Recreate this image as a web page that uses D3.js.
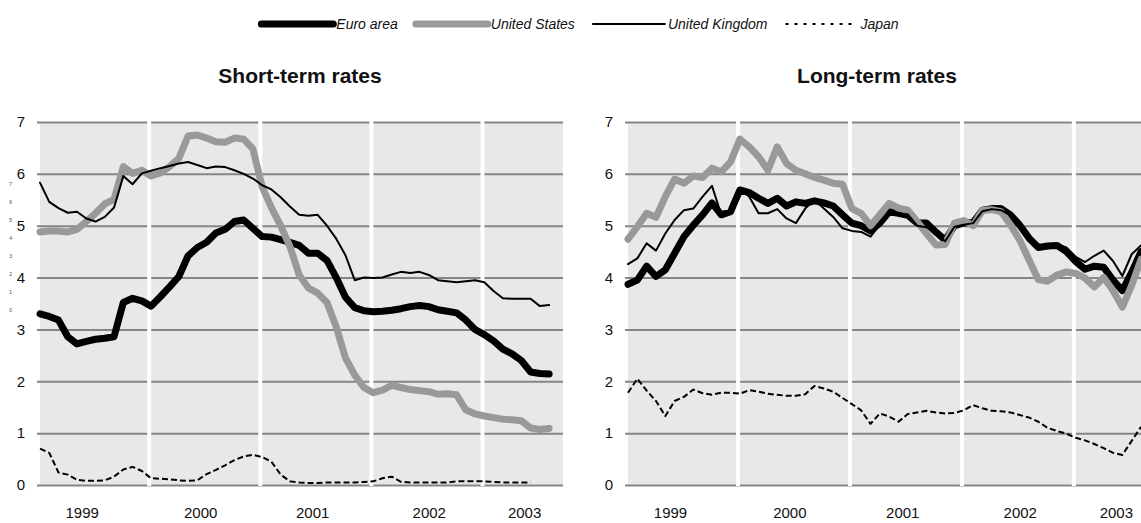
<!DOCTYPE html>
<html>
<head>
<meta charset="utf-8">
<script src="https://cdn.jsdelivr.net/npm/d3@7"></script>
<style>
  body { margin: 0; background: #fff; }
  svg { display: block; font-family: "Liberation Sans", Arial, sans-serif; }
</style>
</head>
<body>
<div id="chart"></div>
<script>
// monthly observations, index 0 = Jan 1999
var euroShort = [3.30, 3.25, 3.18, 2.86, 2.72, 2.77, 2.81, 2.83, 2.86, 3.52, 3.60, 3.55,
  3.45, 3.63, 3.82, 4.02, 4.42, 4.58, 4.68, 4.86, 4.93, 5.08, 5.11, 4.95,
  4.79, 4.78, 4.73, 4.68, 4.62, 4.47, 4.47, 4.33, 4.00, 3.62, 3.42, 3.36,
  3.34, 3.35, 3.37, 3.40, 3.44, 3.46, 3.44, 3.38, 3.35, 3.32, 3.18, 3.00,
  2.90, 2.78, 2.62, 2.53, 2.40, 2.18, 2.15, 2.14];
var usShort = [4.88, 4.90, 4.90, 4.88, 4.93, 5.08, 5.24, 5.42, 5.51, 6.14, 6.01, 6.07,
  5.96, 6.02, 6.14, 6.30, 6.73, 6.75, 6.69, 6.62, 6.61, 6.69, 6.67, 6.48,
  5.75, 5.35, 5.00, 4.60, 4.05, 3.80, 3.70, 3.52, 3.05, 2.45, 2.12, 1.88,
  1.78, 1.83, 1.92, 1.88, 1.84, 1.82, 1.80, 1.75, 1.76, 1.74, 1.45, 1.37,
  1.33, 1.30, 1.27, 1.26, 1.24, 1.10, 1.07, 1.09];
var ukShort = [5.83, 5.46, 5.34, 5.25, 5.27, 5.14, 5.08, 5.17, 5.35, 5.96, 5.80, 6.01,
  6.06, 6.11, 6.15, 6.20, 6.23, 6.17, 6.11, 6.14, 6.13, 6.07, 6.00, 5.91,
  5.78, 5.70, 5.55, 5.37, 5.21, 5.19, 5.21, 5.00, 4.75, 4.43, 3.95, 4.00,
  3.99, 4.00, 4.06, 4.11, 4.09, 4.11, 4.05, 3.95, 3.93, 3.91, 3.93, 3.95,
  3.91, 3.74, 3.60, 3.59, 3.59, 3.59, 3.45, 3.47];
var japanShort = [0.70, 0.62, 0.24, 0.20, 0.10, 0.08, 0.08, 0.09, 0.16, 0.30, 0.35, 0.27,
  0.13, 0.12, 0.11, 0.09, 0.08, 0.09, 0.21, 0.29, 0.38, 0.48, 0.55, 0.58,
  0.54, 0.45, 0.20, 0.07, 0.05, 0.04, 0.04, 0.05, 0.05, 0.05, 0.05, 0.06,
  0.07, 0.13, 0.16, 0.06, 0.05, 0.05, 0.05, 0.05, 0.05, 0.07, 0.07, 0.07,
  0.07, 0.06, 0.05, 0.05, 0.05, 0.05];

var euroLong = [3.87, 3.95, 4.22, 4.02, 4.15, 4.47, 4.79, 5.01, 5.21, 5.44, 5.21, 5.27,
  5.69, 5.64, 5.53, 5.43, 5.53, 5.38, 5.46, 5.43, 5.48, 5.44, 5.38, 5.21,
  5.05, 5.00, 4.90, 5.05, 5.27, 5.24, 5.20, 5.05, 5.05, 4.88, 4.72, 5.00,
  5.05, 5.06, 5.30, 5.33, 5.33, 5.21, 5.01, 4.76, 4.58, 4.61, 4.62, 4.50,
  4.31, 4.16, 4.22, 4.20, 3.95, 3.75, 4.10, 4.50];
var usLong = [4.74, 4.98, 5.24, 5.16, 5.56, 5.90, 5.82, 5.96, 5.93, 6.11, 6.04, 6.23,
  6.67, 6.52, 6.33, 6.07, 6.52, 6.20, 6.07, 6.00, 5.93, 5.88, 5.82, 5.80,
  5.33, 5.24, 5.00, 5.21, 5.43, 5.34, 5.30, 5.08, 4.85, 4.63, 4.64, 5.05,
  5.10, 5.00, 5.30, 5.31, 5.27, 5.02, 4.72, 4.34, 3.96, 3.93, 4.05, 4.11,
  4.08, 3.99, 3.82, 4.00, 3.75, 3.43, 3.85, 4.35];
var ukLong = [4.26, 4.37, 4.66, 4.52, 4.85, 5.11, 5.30, 5.33, 5.56, 5.77, 5.21, 5.30,
  5.72, 5.56, 5.24, 5.24, 5.32, 5.14, 5.05, 5.33, 5.50, 5.33, 5.17, 4.95,
  4.90, 4.88, 4.79, 5.02, 5.30, 5.20, 5.22, 5.00, 4.97, 4.85, 4.70, 4.98,
  5.02, 5.05, 5.28, 5.32, 5.30, 5.20, 5.00, 4.78, 4.60, 4.62, 4.64, 4.58,
  4.40, 4.30, 4.42, 4.52, 4.32, 4.03, 4.45, 4.62];
var japanLong = [1.78, 2.05, 1.82, 1.62, 1.33, 1.62, 1.70, 1.84, 1.77, 1.74, 1.78, 1.78,
  1.76, 1.83, 1.80, 1.76, 1.74, 1.72, 1.72, 1.75, 1.91, 1.86, 1.80, 1.68,
  1.56, 1.44, 1.18, 1.38, 1.32, 1.22, 1.37, 1.40, 1.43, 1.40, 1.38, 1.39,
  1.44, 1.54, 1.48, 1.43, 1.42, 1.40, 1.35, 1.30, 1.22, 1.10, 1.04, 0.99,
  0.91, 0.86, 0.79, 0.71, 0.62, 0.58, 0.85, 1.12];

var seriesNames = ["Euro area", "United States", "United Kingdom", "Japan"];
var yearLabels = ["1999", "2000", "2001", "2002", "2003"];
var yearLabelAt = [4.5, 17.3, 29.4, 42.0, 52.3];   // month index of each year label
var yearBreaks = [11.8, 23.8, 35.8, 47.8];         // white separators between years
var yTicks = [0, 1, 2, 3, 4, 5, 6, 7];
var panelTitles = ["Short-term rates", "Long-term rates"];

var svgWidth = 1141;
var svgHeight = 523;

var styles = [
  { color: "#000000", width: 7, dash: null },
  { color: "#999999", width: 7, dash: null },
  { color: "#000000", width: 2, dash: null },
  { color: "#000000", width: 2, dash: "6,3" }
];

var svg = d3.select("#chart")
  .append("svg")
  .attr("width", svgWidth)
  .attr("height", svgHeight);

var y = d3.scaleLinear().domain([0, 7]).range([485, 122]);

var panels = [
  { title: panelTitles[0], x0: 40, x1: 563, titleX: 300, series: [euroShort, usShort, ukShort, japanShort] },
  { title: panelTitles[1], x0: 628, x1: 1155, titleX: 877, series: [euroLong, usLong, ukLong, japanLong] }
];

panels.forEach(function(p) {
  var x = d3.scaleLinear().domain([0, 56.5]).range([p.x0, p.x1]);
  var g = svg.append("g");

  // plot background
  g.append("rect")
    .attr("x", p.x0)
    .attr("y", y(7))
    .attr("width", p.x1 - p.x0)
    .attr("height", y(0) - y(7))
    .attr("fill", "#e8e8e8");

  // gridlines + y labels
  var yAxis = g.append("g")
    .attr("transform", `translate(${p.x0 - 3}, 0)`)
    .call(d3.axisLeft(y).tickValues(yTicks).tickSize(-(p.x1 - p.x0 + 3)).tickPadding(12).tickFormat(d3.format("d")));
  yAxis.select(".domain").remove();
  yAxis.selectAll(".tick line").attr("stroke", "#858585").attr("stroke-width", 2);
  yAxis.selectAll(".tick text").attr("font-size", 15).attr("fill", "#111")
    .attr("font-family", "'Liberation Sans', Arial, sans-serif");

  // year separators
  g.selectAll(".sep")
    .data(yearBreaks)
    .enter()
    .append("line")
    .attr("x1", d => x(d))
    .attr("x2", d => x(d))
    .attr("y1", y(7) - 1)
    .attr("y2", y(0) + 1)
    .attr("stroke", "#ffffff")
    .attr("stroke-width", 4);

  // year labels
  var xAxis = g.append("g")
    .attr("transform", `translate(0, ${y(0)})`)
    .call(d3.axisBottom(x).tickValues(yearLabelAt).tickSize(0).tickPadding(22)
      .tickFormat((d, i) => yearLabels[i]));
  xAxis.select(".domain").remove();
  xAxis.selectAll(".tick text").attr("font-size", 15).attr("fill", "#111")
    .attr("font-family", "'Liberation Sans', Arial, sans-serif");

  // lines
  var line = d3.line()
    .x((d, i) => x(i))
    .y(d => y(d));

  p.series.forEach(function(values, k) {
    var s = styles[k];
    g.append("path")
      .datum(values)
      .attr("d", line)
      .attr("fill", "none")
      .attr("stroke", s.color)
      .attr("stroke-width", s.width)
      .attr("stroke-linejoin", "round")
      .attr("stroke-linecap", s.dash ? "butt" : "round")
      .attr("stroke-dasharray", s.dash);
  });

  g.append("text")
    .attr("x", p.titleX)
    .attr("y", 83)
    .attr("text-anchor", "middle")
    .attr("font-size", 21)
    .attr("font-weight", "bold")
    .attr("fill", "#111")
    .text(p.title);
});

// faint secondary scale left of the first panel
var tiny = d3.scaleLinear().domain([0, 7]).range([310, 184]);
var tinyAxis = svg.append("g")
  .attr("transform", "translate(13, 0)")
  .call(d3.axisLeft(tiny).tickValues(yTicks).tickSize(0).tickPadding(1).tickFormat(d3.format("d")));
tinyAxis.select(".domain").remove();
tinyAxis.selectAll(".tick text").attr("font-size", 5).attr("fill", "#444");

// legend
var legend = svg.append("g");
var cursor = 0;
seriesNames.forEach(function(name, k) {
  var item = legend.append("g");
  var s = styles[k];
  item.append("line")
    .attr("x1", 0).attr("x2", 72)
    .attr("y1", 24).attr("y2", 24)
    .attr("stroke", s.color)
    .attr("stroke-width", s.width)
    .attr("stroke-linecap", s.dash ? "butt" : "round")
    .attr("stroke-dasharray", s.dash ? "3,6" : null);
  var t = item.append("text")
    .attr("x", 75)
    .attr("y", 29)
    .attr("font-size", 14)
    .attr("font-style", "italic")
    .attr("fill", "#111")
    .text(name);
  var w = 75 + t.node().getComputedTextLength();
  item.attr("transform", `translate(${cursor}, 0)`);
  cursor += w + 18;
});
var total = cursor - 18;
legend.attr("transform", `translate(${580 - total / 2}, 0)`);
</script>
</body>
</html>
